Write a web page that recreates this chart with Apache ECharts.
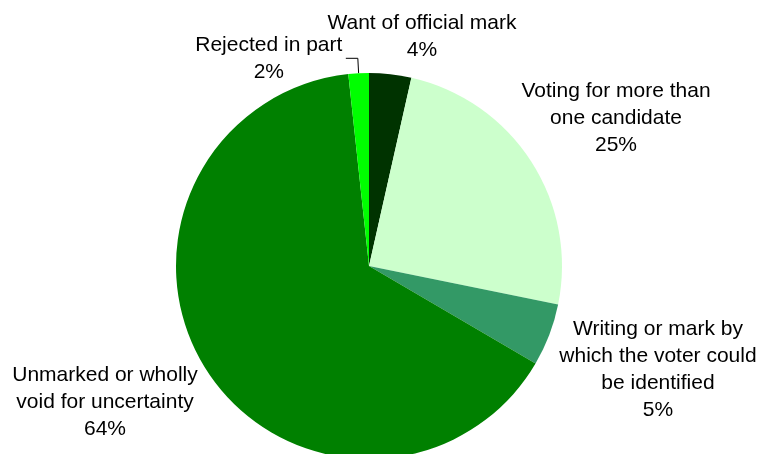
<!DOCTYPE html>
<html>
<head>
<meta charset="utf-8">
<title>Rejected ballots</title>
<script src="https://cdn.jsdelivr.net/npm/echarts@6/dist/echarts.min.js"></script>
<style>
    html, body { margin: 0; padding: 0; background: #fff; }
    #chart { width: 761px; height: 454px; }
</style>
</head>
<body>
<div id="chart"></div>
<script>
(function (window) {
    'use strict';

    // slice names, clockwise from 12 o'clock
    var categories = [
        'Want of official mark',
        'Voting for more than\none candidate',
        'Writing or mark by\nwhich the voter could\nbe identified',
        'Unmarked or wholly\nvoid for uncertainty',
        'Rejected in part'
    ];
    // share of rejected ballots, percent
    var shares = [3.5, 24.5, 5.2, 64.4, 1.7];

    var chartColor = ['#003300', '#ccffcc', '#339966', '#008000', '#00ff00'];
    // label block centres (px); the last one follows its leader line
    var labelCenters = [[422, 37], [616, 118], [658, 370], [105, 402], null];

    var font = 'Liberation Sans, Arial, sans-serif';

    var data = [];
    for (var i = 0; i < categories.length; i++) {
        var item = {
            name: categories[i],
            value: shares[i],
            itemStyle: { color: chartColor[i] }
        };
        if (labelCenters[i] === null) {
            item.label = {
                formatter: function (p) {
                    return '{c|' + p.name + '}\n{c|' + Math.round(p.value) + '%}';
                },
                rich: {
                    c: {
                        width: 150,
                        align: 'center',
                        fontSize: 21,
                        lineHeight: 27,
                        fontFamily: font,
                        color: '#000'
                    }
                },
                distanceToLabelLine: 2
            };
            item.labelLine = {
                show: true,
                length: 15,
                length2: 12,
                smooth: false,
                lineStyle: { color: '#000', width: 1 }
            };
        }
        data.push(item);
    }

    var chart = echarts.init(document.getElementById('chart'), null, { renderer: 'canvas' });
    chart.setOption({
        animation: false,
        backgroundColor: '#fff',
        series: [{
            type: 'pie',
            center: [369, 266],
            radius: 193,
            startAngle: 90,
            clockwise: true,
            avoidLabelOverlap: false,
            data: data,
            label: {
                show: true,
                position: 'outside',
                formatter: function (p) {
                    return p.name + '\n' + Math.round(p.value) + '%';
                },
                fontSize: 21,
                lineHeight: 27,
                fontFamily: font,
                color: '#000',
                align: 'center'
            },
            labelLine: { show: false },
            labelLayout: function (params) {
                var c = labelCenters[params.dataIndex];
                if (!c) {
                    return {};
                }
                return {
                    x: c[0],
                    y: c[1],
                    align: 'center',
                    verticalAlign: 'middle'
                };
            },
            itemStyle: { borderWidth: 0 },
            emphasis: { disabled: true }
        }]
    });
})(window);
</script>
</body>
</html>
